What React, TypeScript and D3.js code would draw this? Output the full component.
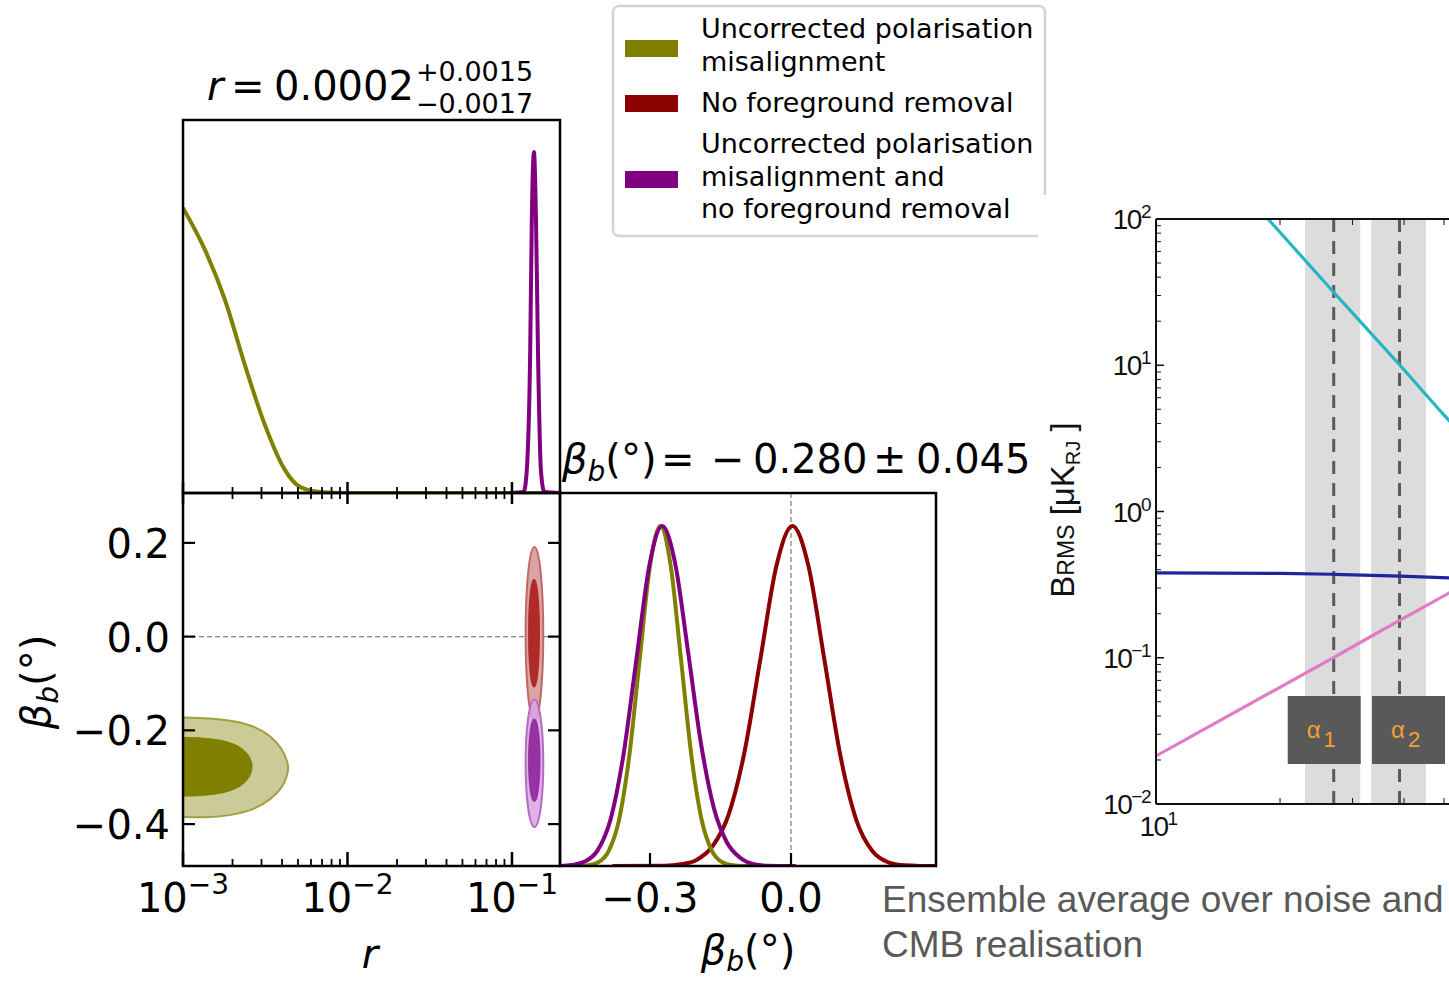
import React from "react";
import * as d3 from "d3";

// ---------- data: r posterior (top panel) ----------
const rOliveR = [0.001, 0.00136, 0.0018, 0.00238, 0.00315, 0.00417, 0.00514, 0.0068, 0.0096, 0.2];
const rOliveP = [0.836, 0.713, 0.566, 0.375, 0.199, 0.067, 0.018, 0.003, 0, 0];
const rMagR = [0.097, 0.118, 0.123, 0.129, 0.132, 0.136, 0.14, 0.144, 0.15, 0.157, 0.196];
const rMagP = [0, 0.004, 0.066, 0.41, 0.8, 1, 0.8, 0.41, 0.066, 0.004, 0];

// ---------- data: beta_b posterior (right 1D panel) ----------
const bOliveB = [-0.454, -0.432, -0.41, -0.388, -0.366, -0.344, -0.322, -0.3, -0.278, -0.256, -0.234, -0.212, -0.19, -0.168, -0.146, -0.124, -0.102, -0.05];
const bOliveP = [0, 0.002, 0.011, 0.044, 0.135, 0.325, 0.607, 0.883, 1, 0.883, 0.607, 0.325, 0.135, 0.044, 0.011, 0.002, 0, 0];
const bMagB = [-0.49, -0.4665, -0.439, -0.4115, -0.384, -0.3565, -0.329, -0.3015, -0.274, -0.2465, -0.219, -0.1915, -0.164, -0.1365, -0.109, -0.0815, -0.054, 0.01];
const bMagP = [0, 0.003, 0.013, 0.046, 0.137, 0.327, 0.607, 0.883, 1, 0.89, 0.63, 0.36, 0.17, 0.07, 0.025, 0.006, 0.001, 0];
const bRedB = [-0.38, -0.269, -0.235, -0.201, -0.167, -0.133, -0.099, -0.065, -0.031, 0.003, 0.037, 0.071, 0.105, 0.139, 0.173, 0.207, 0.241, 0.275, 0.31];
const bRedP = [0, 0.001, 0.005, 0.018, 0.058, 0.15, 0.335, 0.61, 0.883, 1, 0.883, 0.607, 0.325, 0.135, 0.044, 0.011, 0.002, 0.0003, 0];

// ---------- data: 2D contours ----------
const oliveOuterR = [0.0005, 0.001, 0.00146, 0.00207, 0.00274, 0.00338, 0.00394, 0.00429, 0.00435, 0.00429, 0.00394, 0.00338, 0.00274, 0.00207, 0.00146, 0.001, 0.0005];
const oliveOuterB = [-0.1723, -0.1723, -0.1745, -0.1809, -0.1936, -0.2128, -0.2383, -0.266, -0.2787, -0.2957, -0.3234, -0.3468, -0.366, -0.3787, -0.3851, -0.3851, -0.3851];
const oliveInnerR = [0.0005, 0.001, 0.00136, 0.0018, 0.00222, 0.00252, 0.00263, 0.00252, 0.00222, 0.0018, 0.00136, 0.001, 0.0005];
const oliveInnerB = [-0.2149, -0.2149, -0.217, -0.2234, -0.2362, -0.2553, -0.2766, -0.3, -0.3191, -0.3319, -0.3383, -0.3404, -0.3404];
// ellipses: no-foreground (red) and both (magenta)
const ellNames = ["redOuter", "redInner", "magOuter", "magInner"];
const ellRLow = [0.121, 0.127, 0.121, 0.127];
const ellRHigh = [0.155, 0.146, 0.155, 0.147];
const ellBCenter = [0.0053, 0.0074, -0.27, -0.2638];
const ellBHalf = [0.186, 0.114, 0.136, 0.087];

// ---------- ticks ----------
const betaTicks = [0.2, 0, -0.2, -0.4];
const betaTickLabels = ["0.2", "0.0", "\u22120.2", "\u22120.4"];
const rMajor = [1e-3, 1e-2, 1e-1];
const rMajorExp = ["\u22123", "\u22122", "\u22121"];
const beta1DTicks = [-0.3, 0];
const beta1DLabels = ["\u22120.3", "0.0"];

// ---------- legend ----------
const legendLines = [
  ["Uncorrected polarisation", "misalignment"],
  ["No foreground removal"],
  ["Uncorrected polarisation", "misalignment and", "no foreground removal"],
];
const legendColors = ["#808000", "#8b0000", "#800080"];

// ---------- right panel (B_RMS vs frequency) ----------
const syncFreq = [16, 18.7, 27.1, 39.1, 51.4, 60];
const syncVal = [162, 100, 31.2, 10, 4.2, 2.65];
const cmbFreq = [10, 20, 27.1, 39.1, 51.4, 60];
const cmbVal = [0.38, 0.377, 0.372, 0.362, 0.352, 0.346];
const dustFreq = [10, 27.1, 39.1, 51.4, 60];
const dustVal = [0.0213, 0.101, 0.181, 0.277, 0.353];
const bandCenter = [27, 39];
const bandLow = [23, 33.3];
const bandHigh = [31.3, 45.2];
const bandLabel = ["1", "2"];
const bandBoxOffset = [-46, -27.5];
const yDecades = [2, 1, 0, -1, -2];

const DV = "DejaVu Sans, sans-serif";
const AR = "Liberation Sans, Arial, sans-serif";

export default function App() {
  // scales
  const xR = d3.scaleLog().domain([1e-3, Math.pow(10, -0.708)]).range([183, 560]);
  const yR = d3.scaleLinear().domain([0, 1.094]).range([493, 120]);
  const yB2 = d3.scaleLinear().domain([-0.4894, 0.3064]).range([866, 493]);
  const xB = d3.scaleLinear().domain([-0.4915, 0.3085]).range([560, 936]);
  const yP = d3.scaleLinear().domain([0, 1.097]).range([866, 493]);

  const xF = d3.scaleLog().domain([10, 100]).range([1156, 1568]);
  const yF = d3.scaleLog().domain([0.01, 100]).range([804, 219]);

  const lineR = d3.line<[number, number]>().x((d) => xR(d[0])).y((d) => yR(d[1])).curve(d3.curveMonotoneX);
  const lineB = d3.line<[number, number]>().x((d) => xB(d[0])).y((d) => yP(d[1])).curve(d3.curveMonotoneX);
  const contour = d3.line<[number, number]>().x((d) => xR(d[0])).y((d) => yB2(d[1])).curve(d3.curveCatmullRomClosed.alpha(0.5));
  const lineF = d3.line<[number, number]>().x((d) => xF(d[0])).y((d) => yF(d[1])).curve(d3.curveMonotoneX);

  const zip = (a: number[], b: number[]) => a.map((v, i) => [v, b[i]] as [number, number]);

  const rTicks = xR.ticks();
  const isMajor = (v: number) => Math.abs(Math.log10(v) - Math.round(Math.log10(v))) < 1e-6;

  const ellFill = ["#dba4a4", "#b02a2a", "#d9a3e3", "#9632a4"];
  const ellStroke = ["#c06868", "#b02a2a", "#b46cc4", "#9632a4"];

  const yMinor: number[] = [];
  for (let e = -2; e < 2; e++) for (let m = 2; m <= 9; m++) yMinor.push(m * Math.pow(10, e));
  const xMinorF = [20, 30, 40, 50];

  return (
    <svg width={1449} height={981} style={{ position: "absolute", left: 0, top: 0, background: "#fff" }}>
      <defs>
        <clipPath id="clipR"><rect x={183} y={120} width={377} height={373} /></clipPath>
        <clipPath id="clip2"><rect x={183} y={493} width={377} height={373} /></clipPath>
        <clipPath id="clipB"><rect x={560} y={493} width={376} height={373} /></clipPath>
        <clipPath id="clipF"><rect x={1156} y={219} width={300} height={585} /></clipPath>
      </defs>
      <rect x={0} y={0} width={1449} height={981} fill="#fff" />

      {/* ---------- r 1D panel ---------- */}
      <g clipPath="url(#clipR)">
        <path d={lineR(zip(rOliveR, rOliveP)) || ""} fill="none" stroke="#808000" strokeWidth={4} />
        <path d={lineR(zip(rMagR, rMagP)) || ""} fill="none" stroke="#800080" strokeWidth={4} />
      </g>
      <rect x={183} y={120} width={377} height={373} fill="none" stroke="#000" strokeWidth={2.5} />
      <text y={100} fontFamily={DV} fontSize={40}>
        <tspan x={207} fontStyle="italic">r</tspan>
        <tspan x={231}>=</tspan>
        <tspan x={274}>0.0002</tspan>
      </text>
      <text x={416} y={81} fontFamily={DV} fontSize={27}>+0.0015</text>
      <text x={416} y={113} fontFamily={DV} fontSize={27}>{"\u22120.0017"}</text>

      {/* ---------- 2D panel ---------- */}
      <line x1={183} x2={560} y1={yB2(0)} y2={yB2(0)} stroke="#888" strokeWidth={1.3} strokeDasharray="5,3" />
      <g clipPath="url(#clip2)">
        <path d={contour(zip(oliveOuterR, oliveOuterB)) || ""} fill="#cbcb97" stroke="#a0a040" strokeWidth={2} />
        <path d={contour(zip(oliveInnerR, oliveInnerB)) || ""} fill="#808000" stroke="#808000" strokeWidth={1} />
        {ellNames.map((n, i) => {
          const cx = (xR(ellRLow[i]) + xR(ellRHigh[i])) / 2;
          const rx = (xR(ellRHigh[i]) - xR(ellRLow[i])) / 2;
          const cy = yB2(ellBCenter[i]);
          const ry = yB2(ellBCenter[i] - ellBHalf[i]) - cy;
          return (
            <ellipse key={n} cx={cx} cy={cy} rx={rx} ry={ry} fill={ellFill[i]} fillOpacity={i === 2 ? 0.85 : 1} stroke={ellStroke[i]} strokeWidth={2} />
          );
        })}
      </g>
      <rect x={183} y={493} width={377} height={373} fill="none" stroke="#000" strokeWidth={2.5} />
      {betaTicks.map((v, i) => (
        <g key={"bt" + i}>
          <line x1={183} x2={195} y1={yB2(v)} y2={yB2(v)} stroke="#000" strokeWidth={2.2} />
          <line x1={548} x2={560} y1={yB2(v)} y2={yB2(v)} stroke="#000" strokeWidth={2.2} />
          <text x={170} y={yB2(v) + 15} textAnchor="end" fontFamily={DV} fontSize={40}>{betaTickLabels[i]}</text>
        </g>
      ))}
      {rTicks.map((v, i) => {
        const x = xR(v);
        const maj = isMajor(v);
        return (
          <g key={"rt" + i}>
            <line x1={x} x2={x} y1={maj ? 482 : 487} y2={maj ? 504 : 499} stroke="#000" strokeWidth={maj ? 2.5 : 1.8} />
            <line x1={x} x2={x} y1={866} y2={maj ? 852 : 859} stroke="#000" strokeWidth={maj ? 2.5 : 1.8} />
          </g>
        );
      })}
      {rMajor.map((v, i) => (
        <text key={"rl" + i} x={xR(v)} y={912} textAnchor="middle" fontFamily={DV} fontSize={40}>
          <tspan>10</tspan>
          <tspan dy={-18} fontSize={28}>{rMajorExp[i]}</tspan>
        </text>
      ))}
      <text x={370} y={968} textAnchor="middle" fontFamily={DV} fontSize={40} fontStyle="italic">r</text>
      <text transform="translate(50,682) rotate(-90)" textAnchor="middle" fontFamily={DV} fontSize={40}>
        <tspan fontStyle="italic">β</tspan>
        <tspan fontStyle="italic" fontSize={28} dy={8}>b</tspan>
        <tspan dy={-8}>(°)</tspan>
      </text>

      {/* ---------- beta 1D panel ---------- */}
      <line x1={xB(0)} x2={xB(0)} y1={493} y2={866} stroke="#888" strokeWidth={1.3} strokeDasharray="5,3" />
      <g clipPath="url(#clipB)">
        <path d={lineB(zip(bRedB, bRedP)) || ""} fill="none" stroke="#8b0000" strokeWidth={4} />
        <path d={lineB(zip(bOliveB, bOliveP)) || ""} fill="none" stroke="#808000" strokeWidth={4} />
        <path d={lineB(zip(bMagB, bMagP)) || ""} fill="none" stroke="#800080" strokeWidth={4} />
      </g>
      <rect x={560} y={493} width={376} height={373} fill="none" stroke="#000" strokeWidth={2.5} />
      {beta1DTicks.map((v, i) => (
        <g key={"b1" + i}>
          <line x1={xB(v)} x2={xB(v)} y1={866} y2={853} stroke="#000" strokeWidth={2.2} />
          <text x={xB(v)} y={912} textAnchor="middle" fontFamily={DV} fontSize={40}>{beta1DLabels[i]}</text>
        </g>
      ))}
      <text x={748} y={964} textAnchor="middle" fontFamily={DV} fontSize={40}>
        <tspan fontStyle="italic">β</tspan>
        <tspan fontStyle="italic" fontSize={28} dy={7}>b</tspan>
        <tspan dy={-7}>(°)</tspan>
      </text>
      <text y={473} fontFamily={DV} fontSize={40}>
        <tspan x={562} fontStyle="italic">β</tspan>
        <tspan fontStyle="italic" fontSize={28} dy={8}>b</tspan>
        <tspan dy={-8}>(°)</tspan>
        <tspan x={661}>=</tspan>
        <tspan x={711}>{"\u2212"}</tspan>
        <tspan x={753}>0.280</tspan>
        <tspan x={873}>±</tspan>
        <tspan x={916}>0.045</tspan>
      </text>

      {/* ---------- legend ---------- */}
      <rect x={613} y={6} width={432} height={230} rx={6} fill="#fff" stroke="#d4d4d4" strokeWidth={2.5} />
      {(() => {
        const baselines = [[38, 71], [112], [153, 186, 218]];
        const patchY = [40, 95, 171];
        return legendLines.map((lines, i) => (
          <g key={"lg" + i}>
            <rect x={625} y={patchY[i]} width={53} height={17} fill={legendColors[i]} />
            {lines.map((t, j) => (
              <text key={j} x={701} y={baselines[i][j]} fontFamily={DV} fontSize={27}>{t}</text>
            ))}
          </g>
        ));
      })()}

      {/* ---------- right panel (pasted plot) ---------- */}
      <rect x={1038} y={195} width={411} height={650} fill="#fff" />
      {bandCenter.map((c, i) => (
        <rect key={"band" + i} x={xF(bandLow[i])} y={219} width={xF(bandHigh[i]) - xF(bandLow[i])} height={585} fill="#dcdcdc" />
      ))}
      {bandCenter.map((c, i) => (
        <line key={"dl" + i} x1={xF(c)} x2={xF(c)} y1={219} y2={804} stroke="#5a5a5a" strokeWidth={3} strokeDasharray="13,9" />
      ))}
      <g clipPath="url(#clipF)">
        <path d={lineF(zip(syncFreq, syncVal)) || ""} fill="none" stroke="#22b6c6" strokeWidth={3.2} />
        <path d={lineF(zip(cmbFreq, cmbVal)) || ""} fill="none" stroke="#2024a0" strokeWidth={3.2} />
        <path d={lineF(zip(dustFreq, dustVal)) || ""} fill="none" stroke="#e07cc4" strokeWidth={3.2} />
      </g>
      {bandCenter.map((c, i) => (
        <g key={"ab" + i}>
          <rect x={xF(c) + bandBoxOffset[i]} y={696} width={73} height={68} fill="#595959" />
          <text x={xF(c) + bandBoxOffset[i] + 19} y={738} fontFamily={AR} fontSize={24} fill="#f5a030">
            <tspan>α</tspan>
            <tspan dx={3} dy={9} fontSize={22}>{bandLabel[i]}</tspan>
          </text>
        </g>
      ))}
      <line x1={1156} x2={1449} y1={219} y2={219} stroke="#111" strokeWidth={2} />
      <line x1={1156} x2={1449} y1={804} y2={804} stroke="#111" strokeWidth={2} />
      <line x1={1156} x2={1156} y1={219} y2={804} stroke="#111" strokeWidth={2} />
      {yDecades.map((e) => (
        <g key={"yd" + e}>
          <line x1={1156} x2={1164} y1={yF(Math.pow(10, e))} y2={yF(Math.pow(10, e))} stroke="#111" strokeWidth={1.5} />
          <text x={1150} y={yF(Math.pow(10, e)) + 10} textAnchor="end" fontFamily={AR} fontSize={28} letterSpacing={-1.5} fill="#111">
            <tspan>10</tspan>
            <tspan dy={-11} fontSize={19}>{e < 0 ? "\u2212" + Math.abs(e) : String(e)}</tspan>
          </text>
        </g>
      ))}
      {yMinor.map((v, i) => (
        <line key={"ym" + i} x1={1156} x2={1161} y1={yF(v)} y2={yF(v)} stroke="#111" strokeWidth={1} />
      ))}
      {xMinorF.map((v, i) => (
        <g key={"xm" + i}>
          <line x1={xF(v)} x2={xF(v)} y1={804} y2={798} stroke="#111" strokeWidth={1} />
          <line x1={xF(v)} x2={xF(v)} y1={219} y2={225} stroke="#111" strokeWidth={1} />
        </g>
      ))}
      <text x={1158} y={836} textAnchor="middle" fontFamily={AR} fontSize={28} letterSpacing={-1.5} fill="#111">
        <tspan>10</tspan>
        <tspan dy={-11} fontSize={19}>1</tspan>
      </text>
      <text transform="translate(1074,510) rotate(-90)" textAnchor="middle" fontFamily={AR} fontSize={33} fill="#111">
        <tspan>B</tspan>
        <tspan fontSize={23}>RMS</tspan>
        <tspan>{" [μK"}</tspan>
        <tspan fontSize={20} dy={6}>RJ</tspan>
        <tspan dy={-6}>{" ]"}</tspan>
      </text>

      {/* ---------- annotation ---------- */}
      <text x={882} y={912} fontFamily={AR} fontSize={37} fill="#595959">Ensemble average over noise and</text>
      <text x={882} y={957} fontFamily={AR} fontSize={37} fill="#595959">CMB realisation</text>
    </svg>
  );
}
